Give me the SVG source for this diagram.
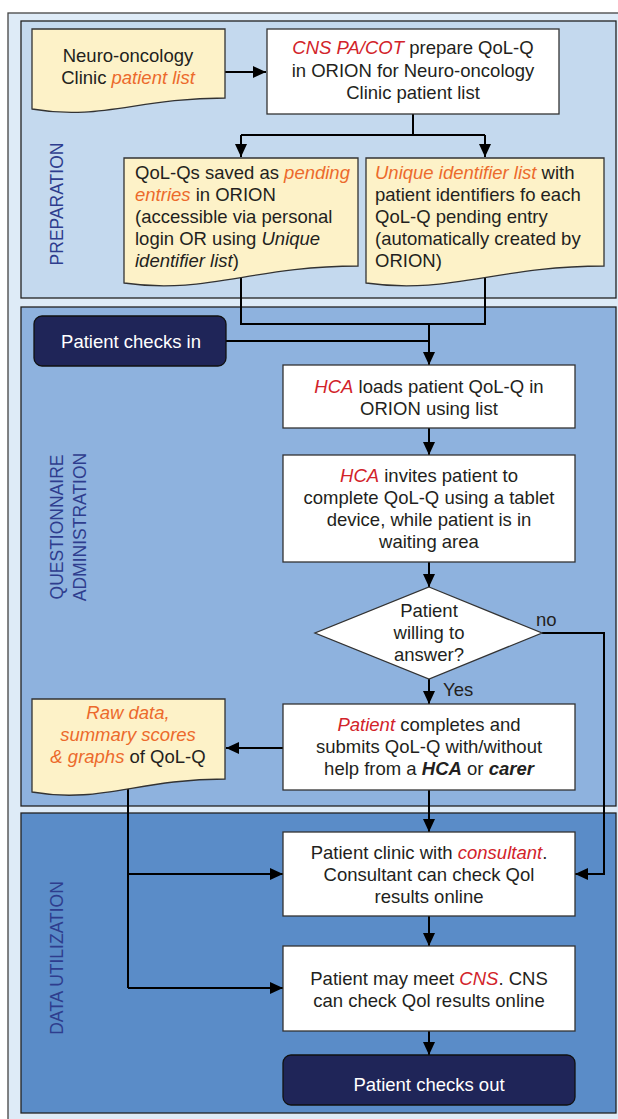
<svg xmlns="http://www.w3.org/2000/svg" width="618" height="1119" viewBox="0 0 618 1119">
<style>
text{font-family:"Liberation Sans",Arial,Helvetica,sans-serif;font-size:18.5px;fill:#231f20}
.c{text-anchor:middle}
.r{fill:#d2232a;font-style:italic}
.o{fill:#ec6a2c;font-style:italic}
.i{font-style:italic}
.bi{font-weight:bold;font-style:italic}
.w{fill:#ffffff}
.lab{font-size:17.5px;fill:#2e3d8e;text-anchor:middle}
.box{fill:#ffffff;stroke:#333;stroke-width:1.3}
.doc{fill:#fdf2c8;stroke:#333;stroke-width:1.3}
.nav{fill:#1f2558;stroke:#111;stroke-width:1.3}
.sec{stroke:#222;stroke-width:1.3}
.ln{fill:none;stroke:#000;stroke-width:2}
.ar{fill:none;stroke:#000;stroke-width:2;marker-end:url(#ah)}
</style>
<defs>
<marker id="ah" viewBox="0 0 13 12" refX="13" refY="6" markerWidth="13" markerHeight="12" markerUnits="userSpaceOnUse" orient="auto"><path d="M0,0 L13,6 L0,12 z" fill="#000"/></marker>
</defs>
<g id="background">
<rect x="8" y="13" width="640" height="1130" fill="#deebf7" stroke="#444" stroke-width="1.3"/>
<rect class="sec" x="21" y="21" width="595" height="277" fill="#c4d9ee"/>
<rect class="sec" x="21" y="307" width="595" height="499" fill="#8eb2de"/>
<rect class="sec" x="21" y="813" width="595" height="300" fill="#5a8cc8"/>
<text class="lab" transform="translate(63,204) rotate(-90)">PREPARATION</text>
<text class="lab" transform="translate(63,527) rotate(-90)">QUESTIONNAIRE</text>
<text class="lab" transform="translate(86,527) rotate(-90)">ADMINISTRATION</text>
<text class="lab" transform="translate(63,958) rotate(-90)">DATA UTILIZATION</text>
</g>
<g id="connectors">
<path class="ar" d="M225,72 H266"/>
<path class="ln" d="M413,114 V135 M241,135 H485"/>
<path class="ar" d="M241,135 V157"/>
<path class="ar" d="M485,135 V157"/>
<path class="ln" d="M241,270 V324 H485 V270"/>
<path class="ln" d="M226,341 H429"/>
<path class="ar" d="M429,324 V365"/>
<path class="ar" d="M429,428 V455"/>
<path class="ar" d="M429,562 V587"/>
<path class="ar" d="M429,679 V704"/>
<text x="443" y="696">Yes</text>
<path class="ar" d="M542,633 H604 V874 H575"/>
<text x="536" y="626">no</text>
<path class="ar" d="M283,748 H226"/>
<path class="ar" d="M429,790 V832"/>
<path class="ln" d="M128,780 V988"/>
<path class="ar" d="M128,874 H283"/>
<path class="ar" d="M128,988 H283"/>
<path class="ar" d="M429,916 V946"/>
<path class="ar" d="M429,1031 V1055"/>
</g>
<g id="n-patientlist">
<path class="doc" d="M32,29 H225 V98 C138,98 100,121 32,109 Z"/>
<text class="c" x="128" y="62">Neuro-oncology</text>
<text class="c" x="128" y="84">Clinic <tspan class="o">patient list</tspan></text>
</g>
<g id="n-prepare">
<rect class="box" x="267" y="29" width="292" height="85"/>
<text class="c" x="413" y="54"><tspan class="r">CNS PA/COT</tspan> prepare QoL-Q</text>
<text class="c" x="413" y="77">in ORION for Neuro-oncology</text>
<text class="c" x="413" y="99">Clinic patient list</text>
</g>
<g id="n-pending">
<path class="doc" d="M124,158 H358 V266 C253,266 206,295 124,283 Z"/>
<text x="135" y="179">QoL-Qs saved as <tspan class="o">pending</tspan></text>
<text x="135" y="201"><tspan class="o">entries</tspan> in ORION</text>
<text x="135" y="223">(accessible via personal</text>
<text x="135" y="245">login OR using <tspan class="i">Unique</tspan></text>
<text x="135" y="267"><tspan class="i">identifier list</tspan>)</text>
</g>
<g id="n-uniquelist">
<path class="doc" d="M366,158 H604 V266 C497,266 449,295 366,283 Z"/>
<text x="375" y="179"><tspan class="o">Unique identifier list</tspan> with</text>
<text x="375" y="201">patient identifiers fo each</text>
<text x="375" y="223">QoL-Q pending entry</text>
<text x="375" y="245">(automatically created by</text>
<text x="375" y="267">ORION)</text>
</g>
<g id="n-checkin">
<rect class="nav" x="34" y="316" width="192" height="50" rx="8"/>
<text class="c w" x="131" y="348">Patient checks in</text>
</g>
<g id="n-hcaloads">
<rect class="box" x="283" y="365" width="292" height="63"/>
<text class="c" x="429" y="393"><tspan class="r">HCA</tspan> loads patient QoL-Q in</text>
<text class="c" x="429" y="415">ORION using list</text>
</g>
<g id="n-hcainvites">
<rect class="box" x="283" y="455" width="292" height="107"/>
<text class="c" x="429" y="482"><tspan class="r">HCA</tspan> invites patient to</text>
<text class="c" x="429" y="504">complete QoL-Q using a tablet</text>
<text class="c" x="429" y="526">device, while patient is in</text>
<text class="c" x="429" y="548">waiting area</text>
</g>
<g id="n-willing">
<path class="box" d="M429,587 L542,633 L429,679 L315,633 Z"/>
<text class="c" x="429" y="617">Patient</text>
<text class="c" x="429" y="639">willing to</text>
<text class="c" x="429" y="661">answer?</text>
</g>
<g id="n-completes">
<rect class="box" x="283" y="704" width="292" height="86"/>
<text class="c" x="429" y="731"><tspan class="r">Patient</tspan> completes and</text>
<text class="c" x="429" y="753">submits QoL-Q with/without</text>
<text class="c" x="429" y="775">help from a <tspan class="bi">HCA</tspan> or <tspan class="bi">carer</tspan></text>
</g>
<g id="n-rawdata">
<path class="doc" d="M32,699 H225 V779 C138,779 100,804 32,792 Z"/>
<text class="c" x="128" y="719"><tspan class="o">Raw data,</tspan></text>
<text class="c" x="128" y="741"><tspan class="o">summary scores</tspan></text>
<text class="c" x="128" y="763"><tspan class="o">&amp; graphs</tspan> of QoL-Q</text>
</g>
<g id="n-consultant">
<rect class="box" x="283" y="832" width="292" height="84"/>
<text class="c" x="429" y="859">Patient clinic with <tspan class="r">consultant</tspan>.</text>
<text class="c" x="429" y="881">Consultant can check Qol</text>
<text class="c" x="429" y="903">results online</text>
</g>
<g id="n-cns">
<rect class="box" x="283" y="946" width="292" height="85"/>
<text class="c" x="429" y="985">Patient may meet <tspan class="r">CNS</tspan>. CNS</text>
<text class="c" x="429" y="1007">can check Qol results online</text>
</g>
<g id="n-checkout">
<rect class="nav" x="283" y="1055" width="292" height="50" rx="8"/>
<text class="c w" x="429" y="1091">Patient checks out</text>
</g>
</svg>
